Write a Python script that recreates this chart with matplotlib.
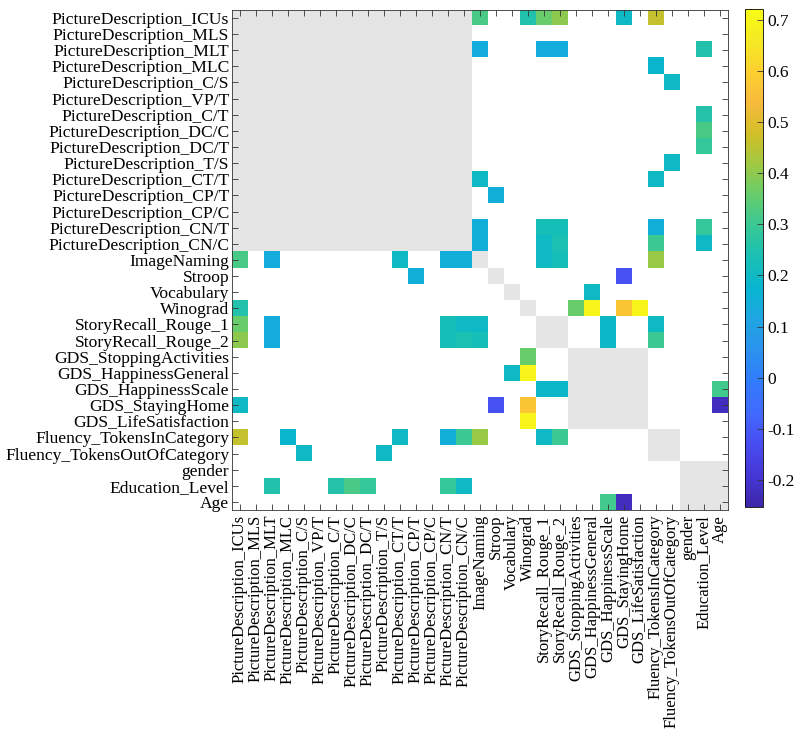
import numpy as np
import matplotlib
matplotlib.use('Agg')
import matplotlib.pyplot as plt
from matplotlib.colors import LinearSegmentedColormap, ListedColormap

labels = ['PictureDescription_ICUs', 'PictureDescription_MLS', 'PictureDescription_MLT',
          'PictureDescription_MLC', 'PictureDescription_C/S', 'PictureDescription_VP/T',
          'PictureDescription_C/T', 'PictureDescription_DC/C', 'PictureDescription_DC/T',
          'PictureDescription_T/S', 'PictureDescription_CT/T', 'PictureDescription_CP/T',
          'PictureDescription_CP/C', 'PictureDescription_CN/T', 'PictureDescription_CN/C',
          'ImageNaming', 'Stroop', 'Vocabulary', 'Winograd',
          'StoryRecall_Rouge_1', 'StoryRecall_Rouge_2',
          'GDS_StoppingActivities', 'GDS_HappinessGeneral', 'GDS_HappinessScale',
          'GDS_StayingHome', 'GDS_LifeSatisfaction',
          'Fluency_TokensInCategory', 'Fluency_TokensOutOfCategory',
          'gender', 'Education_Level', 'Age']

# tasks grouped together (within-group cells are greyed out)
group_sizes = [15, 1, 1, 1, 1, 2, 5, 2, 3]

# significant correlations (upper triangle, row index, col index, r)
pair_rows = [0, 0, 0, 0, 0, 0,
             2, 2, 2, 2,
             3, 4, 6, 7, 8, 9,
             10, 10, 11,
             13, 13, 13, 13, 13,
             14, 14, 14, 14, 14,
             15, 15, 15,
             16, 17,
             18, 18, 18, 18,
             19, 19, 20, 20,
             23, 24]
pair_cols = [15, 18, 19, 20, 24, 26,
             15, 19, 20, 29,
             26, 27, 29, 29, 29, 27,
             15, 26, 16,
             15, 19, 20, 26, 29,
             15, 19, 20, 26, 29,
             19, 20, 26,
             24, 22,
             21, 22, 24, 25,
             23, 26, 23, 26,
             30, 30]
pair_vals = [0.32, 0.25, 0.36, 0.40, 0.20, 0.46,
             0.14, 0.14, 0.14, 0.25,
             0.18, 0.20, 0.26, 0.32, 0.29, 0.20,
             0.20, 0.20, 0.15,
             0.15, 0.23, 0.23, 0.15, 0.29,
             0.15, 0.20, 0.24, 0.30, 0.20,
             0.20, 0.23, 0.41,
             -0.12, 0.20,
             0.36, 0.70, 0.57, 0.70,
             0.19, 0.20, 0.19, 0.30,
             0.31, -0.22]

# MATLAB parula (every 4th entry)
parula_pts = [[0.2422, 0.1504, 0.6603], [0.2706, 0.2147, 0.8364], [0.2813, 0.3006, 0.9414],
              [0.2602, 0.4123, 0.9952], [0.1963, 0.4847, 0.9892], [0.1687, 0.5703, 0.9359],
              [0.1248, 0.6459, 0.8883], [0.0297, 0.7082, 0.8163], [0.0964, 0.7500, 0.7120],
              [0.2161, 0.7843, 0.5923], [0.3909, 0.8029, 0.4354], [0.6174, 0.7876, 0.2612],
              [0.8203, 0.7498, 0.1535], [0.9728, 0.7298, 0.2394], [0.9892, 0.8136, 0.1885],
              [0.9597, 0.9135, 0.1423], [0.9769, 0.9839, 0.0805]]
parula = LinearSegmentedColormap.from_list('parula', parula_pts)

n = len(labels)
corr = np.full((n, n), np.nan)
for i, j, v in zip(pair_rows, pair_cols, pair_vals):
    corr[i, j] = v
    corr[j, i] = v

grey = np.full((n, n), np.nan)
start = 0
for g in group_sizes:
    grey[start:start + g, start:start + g] = 1
    start += g

plt.rcParams['font.family'] = 'Liberation Serif'
fig = plt.figure(figsize=(8, 7.42), dpi=100)
ax = fig.add_axes([0.29, 0.3127, 0.62, 0.674])

ax.imshow(np.ma.masked_invalid(grey), cmap=ListedColormap(['#e5e5e5']), aspect='auto',
          interpolation='nearest')
im = ax.imshow(np.ma.masked_invalid(corr), cmap=parula, vmin=-0.253, vmax=0.721,
               aspect='auto', interpolation='nearest')

ax.set_xticks(range(n))
ax.set_yticks(range(n))
ax.set_xticklabels(labels, rotation=90, fontsize=12)
ax.set_yticklabels(labels, fontsize=12.6)
ax.tick_params(direction='in', length=4, width=0.6, top=True, right=True,
               color='#333333')
ax.tick_params(axis='y', pad=2)
for s in ax.spines.values():
    s.set_linewidth(0.6)
    s.set_color('#333333')

cax = fig.add_axes([0.931, 0.3167, 0.0225, 0.671])
cb = fig.colorbar(im, cax=cax)
cb.set_ticks([-0.2, -0.1, 0, 0.1, 0.2, 0.3, 0.4, 0.5, 0.6, 0.7])
cb.set_ticklabels(['-0.2', '-0.1', '0', '0.1', '0.2', '0.3', '0.4', '0.5', '0.6', '0.7'])
cb.ax.tick_params(direction='in', length=4, width=0.6, labelsize=12.5, color='#333333')
cb.outline.set_linewidth(0.6)

fig.savefig('out.png', dpi=100)
